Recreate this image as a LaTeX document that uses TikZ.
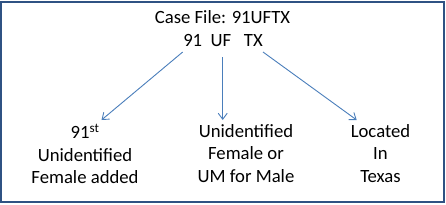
\documentclass[tikz,border=0pt]{standalone}
\usepackage{fontspec}
\setmainfont{Carlito}
\usetikzlibrary{arrows.meta}
\definecolor{frame}{HTML}{2F5283}
\definecolor{arr}{HTML}{4A7EBB}
\tikzset{
  txt/.style={inner sep=0pt, font=\fontsize{18.7}{22.5}\selectfont, text=black},
  blk/.style={txt, align=center, anchor=north},
  conn/.style={draw=arr, line width=0.9pt, -{Straight Barb[length=6pt,width=9pt,line width=0.9pt]}}
}
\begin{document}
\begin{tikzpicture}[x=1pt,y=-1pt]
\useasboundingbox (0,0) rectangle (446,204);
\draw[frame, line width=2pt] (1,2.2) rectangle (444,201.8);
\node[txt, anchor=base] (title) at (222.5,23.5) {Case File: 91UFTX};
\node[txt, anchor=base] (code) at (223,46.5) {91\ \ UF\ \ \ TX};
\coordinate (s1) at (182.7,52);
\coordinate (s2) at (222.7,57);
\coordinate (s3) at (263,52);
\node[blk] (left) at (85,124) {91\textsuperscript{st}\\Unidentified\\Female added};
\node[blk] (mid) at (246,124) {Unidentified\\Female or\\UM for Male};
\node[blk] (right) at (380.5,124) {Located\\In\\Texas};
\coordinate (e1) at (101.5,120);
\coordinate (e2) at (222.7,120);
\coordinate (e3) at (356.7,120);
\draw[conn] (s1) -- (e1);
\draw[conn] (s2) -- (e2);
\draw[conn] (s3) -- (e3);
\end{tikzpicture}
\end{document}
